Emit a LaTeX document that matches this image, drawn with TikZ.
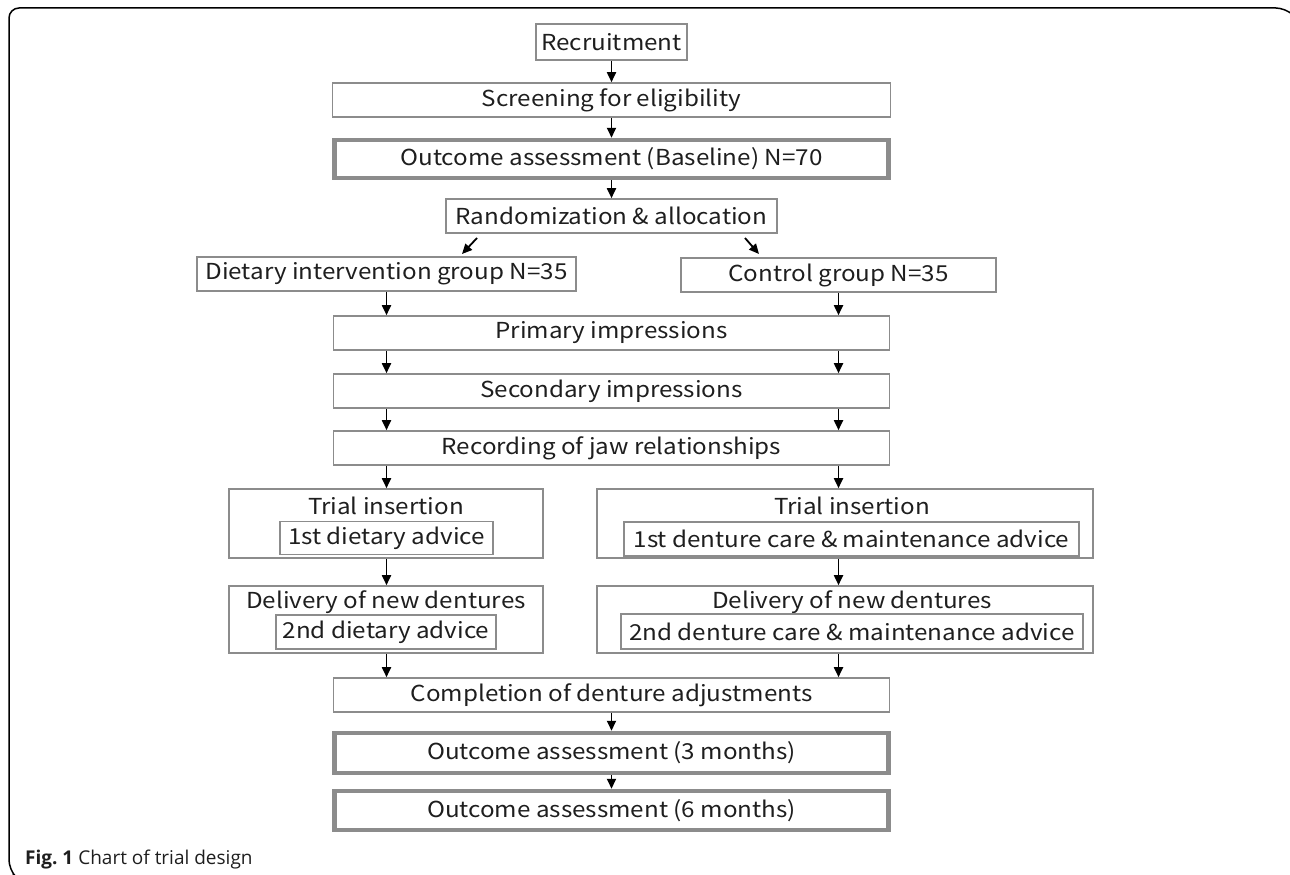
\documentclass[tikz,border=0pt]{standalone}
\usepackage{fontspec}
\setmainfont{Noto Sans CJK JP}[FakeStretch=1.1]
\newfontfamily\capfont{Open Sans}
\usetikzlibrary{arrows.meta,calc}
\definecolor{boxgray}{RGB}{140,140,140}
\definecolor{txt}{RGB}{30,30,30}
\begin{document}
\begin{tikzpicture}[x=1pt,y=-1pt,
  bx/.style={draw=boxgray,line width=1.6pt,inner sep=0pt,text=txt,font=\fontsize{22}{25}\selectfont},
  tbx/.style={bx,line width=4.5pt},
  lbl/.style={inner sep=0pt,text=txt,font=\fontsize{22}{25}\selectfont},
  arr/.style={-{Triangle[length=10pt,width=9pt]},line width=1.8pt},
  frame/.style={line width=1.5pt,rounded corners=10pt}
]
\useasboundingbox (0,0) rectangle (1290,875);
\draw[frame] (13,874) -- (9,870) -- (9,8) -- (1286,8) -- (1290,12);

% main column
\node[bx,minimum width=151pt,minimum height=36pt] (rec) at (611.5,42) {Recruitment};
\node[bx,minimum width=558pt,minimum height=34pt] (scr) at (611.5,100) {Screening for eligibility};
\node[tbx,minimum width=554pt,minimum height=38pt] (base) at (611.5,159) {Outcome assessment (Baseline) N=70};
\node[bx,minimum width=331pt,minimum height=34pt] (rand) at (611.5,216) {Randomization \& allocation};
\node[bx,minimum width=379pt,minimum height=34pt] (diet) at (386.5,274) {Dietary intervention group N=35};
\node[bx,minimum width=315pt,minimum height=34pt] (ctrl) at (838.5,275) {Control group N=35};
\node[bx,minimum width=556pt,minimum height=34pt] (prim) at (611.5,333) {Primary impressions};
\node[bx,minimum width=556pt,minimum height=34pt] (sec) at (611.5,391) {Secondary impressions};
\node[bx,minimum width=556pt,minimum height=34pt] (jaw) at (611.5,448) {Recording of jaw relationships};

% trial insertion
\node[bx,minimum width=314pt,minimum height=69pt] (ltri) at (386,523.5) {};
\node[lbl] (ltrit) at (386,506) {Trial insertion};
\node[bx,minimum width=213pt,minimum height=33pt] (ltrii) at (386.5,538) {1st dietary advice};
\node[bx,minimum width=496pt,minimum height=69pt] (rtri) at (845,523.5) {};
\node[lbl] (rtrit) at (852,506) {Trial insertion};
\node[bx,minimum width=455pt,minimum height=34pt] (rtrii) at (851.5,539) {1st denture care \& maintenance advice};

% delivery
\node[bx,minimum width=314pt,minimum height=67pt] (ldel) at (386,619.5) {};
\node[lbl] (ldelt) at (386,602) {Delivery of new dentures};
\node[bx,minimum width=220pt,minimum height=34pt] (ldeli) at (386,632) {2nd dietary advice};
\node[bx,minimum width=496pt,minimum height=67pt] (rdel) at (845,619.5) {};
\node[lbl] (rdelt) at (852,602) {Delivery of new dentures};
\node[bx,minimum width=462pt,minimum height=35pt] (rdeli) at (852,631.5) {2nd denture care \& maintenance advice};

\node[bx,minimum width=556pt,minimum height=34pt] (comp) at (611.5,695) {Completion of denture adjustments};
\node[tbx,minimum width=554pt,minimum height=40pt] (m3) at (611.5,753) {Outcome assessment (3 months)};
\node[tbx,minimum width=554pt,minimum height=39pt] (m6) at (611.5,810.5) {Outcome assessment (6 months)};

\node[anchor=base west,inner sep=0pt,text=txt,font=\capfont\fontsize{19}{22}\selectfont] (cap) at (25,864) {\textbf{Fig.~1} Chart of trial design};

% arrows
\draw[arr] (rec) -- (scr);
\draw[arr] (scr) -- (base);
\draw[arr] (base) -- (rand);
\coordinate (d1s) at (477,238); \coordinate (d1e) at (462,254);
\coordinate (d2s) at (745,238); \coordinate (d2e) at (759,254);
\draw[arr] (d1s) -- (d1e);
\draw[arr] (d2s) -- (d2e);
\draw[arr] (diet.south) -- (diet.south |- prim.north);
\draw[arr] (ctrl.south) -- (ctrl.south |- prim.north);
\draw[arr] (prim.south -| diet) -- (sec.north -| diet);
\draw[arr] (prim.south -| ctrl) -- (sec.north -| ctrl);
\draw[arr] (sec.south -| diet) -- (jaw.north -| diet);
\draw[arr] (sec.south -| ctrl) -- (jaw.north -| ctrl);
\draw[arr] (jaw.south -| diet) -- (ltri.north -| diet);
\draw[arr] (jaw.south -| ctrl) -- (rtri.north -| ctrl);
\draw[arr] (ltri.south -| diet) -- (ldel.north -| diet);
\draw[arr] (rtri.south -| ctrl) -- (rdel.north -| ctrl);
\draw[arr] (ldel.south -| diet) -- (comp.north -| diet);
\draw[arr] (rdel.south -| ctrl) -- (comp.north -| ctrl);
\draw[arr] (comp) -- (m3);
\draw[arr] (m3) -- (m6);
\end{tikzpicture}
\end{document}
